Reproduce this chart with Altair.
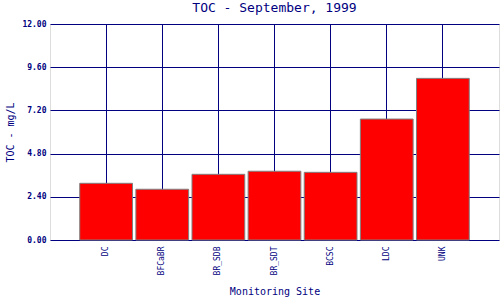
import altair as alt
import pandas as pd

sites = ["DC", "BFCaBR", "BR_SDB", "BR_SDT", "BCSC", "LDC", "UNK"]
toc = [3.15, 2.82, 3.65, 3.82, 3.76, 6.72, 8.98]

df = pd.DataFrame({"site": sites, "toc": toc})

NAVY = "#000080"
FONT = "DejaVu Sans Mono"

chart = alt.Chart(df).mark_bar(
    color="#FF0000", stroke="#808080", strokeWidth=1
).encode(
    x=alt.X("site:N", sort=sites, title="Monitoring Site",
            scale=alt.Scale(paddingInner=0.06, paddingOuter=0.53),
            axis=alt.Axis(labelAngle=-90, labelAlign="right", labelBaseline="middle",
                          labelFont=FONT, labelFontSize=8, labelColor=NAVY,
                          labelPadding=6, ticks=False, domain=False,
                          grid=True, gridColor=NAVY, gridWidth=1, gridOpacity=1,
                          titleFont=FONT, titleFontSize=10, titleFontWeight="normal",
                          titleColor=NAVY, titlePadding=12)),
    y=alt.Y("toc:Q", title="TOC - mg/L",
            scale=alt.Scale(domain=[0, 12], nice=False),
            axis=alt.Axis(values=[0, 2.4, 4.8, 7.2, 9.6, 12], format=".2f",
                          labelFont=FONT, labelFontSize=8, labelFontWeight="bold",
                          labelColor=NAVY, labelPadding=4, ticks=False, domain=False,
                          grid=True, gridColor=NAVY, gridWidth=1, gridOpacity=1,
                          titleFont=FONT, titleFontSize=10, titleFontWeight="normal",
                          titleColor=NAVY, titlePadding=6)),
).properties(
    width=449, height=216,
    title=alt.TitleParams("TOC - September, 1999", font=FONT, fontSize=13,
                          fontWeight="normal", color=NAVY, offset=5),
    autosize=alt.AutoSizeParams(type="none"),
    padding={"left": 50, "top": 24, "right": 1, "bottom": 60},
).configure_view(
    stroke=NAVY, strokeWidth=1.5
).configure(background="white")

chart.save("out.html", embed_options={"renderer": "svg", "actions": False})
